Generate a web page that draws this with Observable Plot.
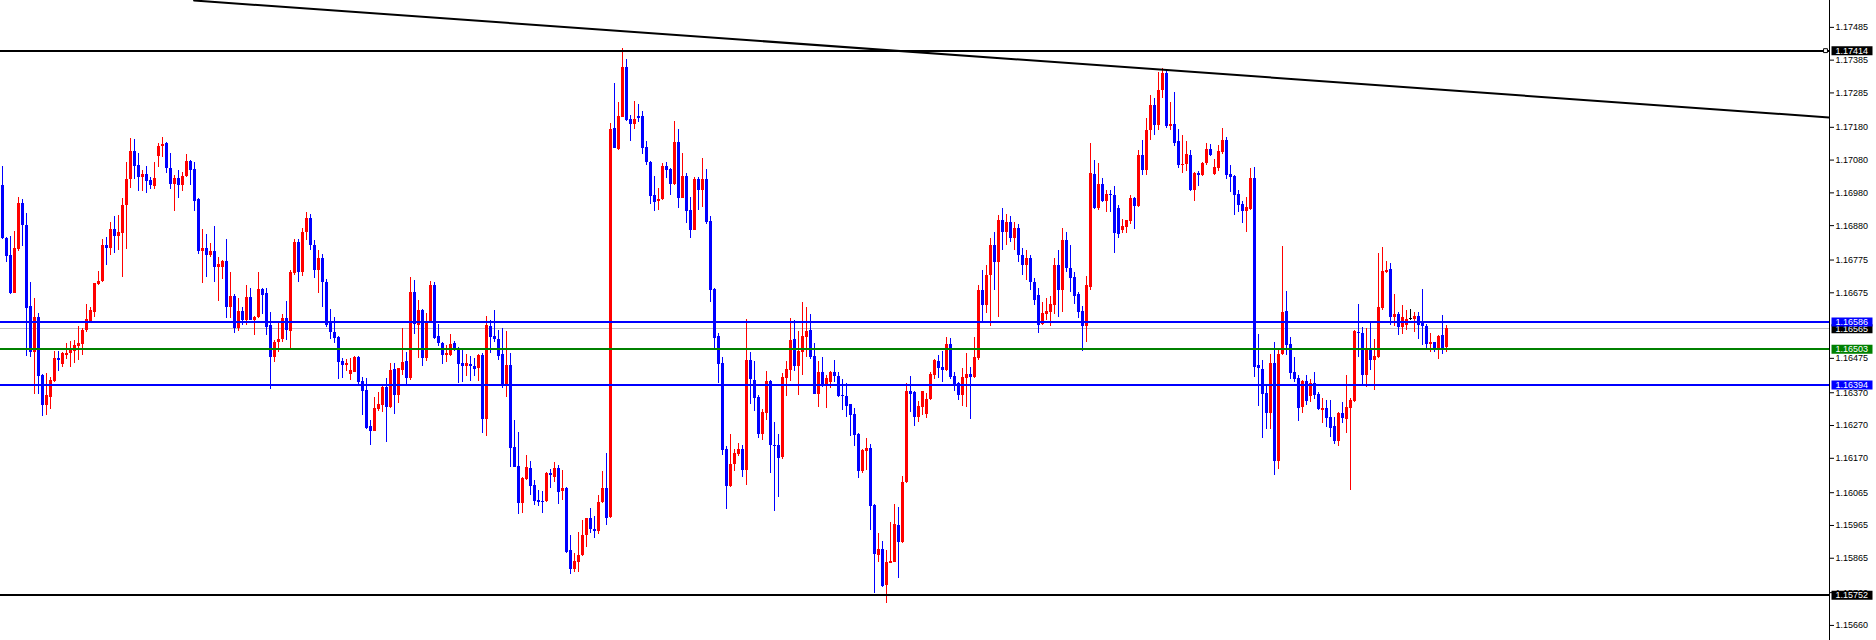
<!DOCTYPE html>
<html><head><meta charset="utf-8">
<script src="https://cdn.jsdelivr.net/npm/d3@7"></script>
<script src="https://cdn.jsdelivr.net/npm/@observablehq/plot@0.6"></script>
<style>
html,body{margin:0;padding:0;background:#fff;}
#chart{width:1876px;height:640px;overflow:hidden;}
</style></head><body><div id="chart"></div>
<script>
// EURUSD-style candles, oldest first (one per bar)
const open = [
1.17003,1.16840,1.16789,1.16674,1.16807,1.16948,1.16881,1.16633,1.16494,1.16600,
1.16423,1.16331,1.16357,1.16403,1.16475,1.16457,1.16485,1.16490,1.16495,1.16512,
1.16517,1.16560,1.16585,1.16615,1.16699,1.16709,1.16820,1.16811,1.16868,1.16848,
1.16857,1.16942,1.17021,1.17106,1.17064,1.17028,1.17036,1.17018,1.17000,1.17091,
1.17120,1.17131,1.17055,1.17006,1.17024,1.17001,1.17030,1.17076,1.17051,1.16960,
1.16802,1.16810,1.16790,1.16801,1.16753,1.16753,1.16771,1.16631,1.16665,1.16567,
1.16618,1.16591,1.16661,1.16591,1.16600,1.16685,1.16673,1.16575,1.16479,1.16522,
1.16533,1.16597,1.16558,1.16733,1.16829,1.16738,1.16859,1.16902,1.16819,1.16743,
1.16780,1.16707,1.16580,1.16554,1.16539,1.16466,1.16454,1.16427,1.16433,1.16478,
1.16404,1.16377,1.16267,1.16253,1.16320,1.16331,1.16386,1.16324,1.16441,1.16363,
1.16439,1.16465,1.16415,1.16676,1.16576,1.16621,1.16476,1.16585,1.16697,1.16542,
1.16520,1.16485,1.16484,1.16520,1.16504,1.16459,1.16449,1.16456,1.16450,1.16444,
1.16484,1.16289,1.16572,1.16542,1.16532,1.16487,1.16390,1.16452,1.16203,1.16145,
1.16033,1.16105,1.16139,1.16087,1.16041,1.16038,1.16038,1.16124,1.16112,1.16138,
1.16069,1.16078,1.15888,1.15832,1.15853,1.15873,1.15934,1.15985,1.15954,1.15948,
1.16035,1.16078,1.15988,1.17176,1.17112,1.17211,1.17363,1.17205,1.17190,1.17213,
1.17213,1.17118,1.17073,1.16972,1.16955,1.16960,1.17061,1.17051,1.17004,1.17134,
1.16964,1.17030,1.16926,1.16866,1.17022,1.16988,1.17022,1.16893,1.16686,1.16543,
1.16459,1.16197,1.16085,1.16151,1.16182,1.16197,1.16134,1.16469,1.16408,1.16357,
1.16244,1.16308,1.16405,1.16210,1.16210,1.16171,1.16415,1.16439,1.16533,1.16451,
1.16494,1.16539,1.16560,1.16481,1.16366,1.16432,1.16393,1.16400,1.16432,1.16420,
1.16362,1.16359,1.16333,1.16304,1.16243,1.16130,1.16191,1.16200,1.16027,1.15874,
1.15892,1.15782,1.15850,1.15853,1.15966,1.15912,1.16095,1.16374,1.16371,1.16293,
1.16326,1.16304,1.16350,1.16423,1.16466,1.16448,1.16438,1.16518,1.16420,1.16399,
1.16362,1.16414,1.16426,1.16417,1.16475,1.16682,1.16636,1.16728,1.16819,1.16768,
1.16896,1.16859,1.16890,1.16841,1.16871,1.16789,1.16758,1.16780,1.16707,1.16667,
1.16579,1.16609,1.16615,1.16637,1.16758,1.16682,1.16835,1.16749,1.16721,1.16670,
1.16618,1.16573,1.16692,1.17036,1.16933,1.17005,1.16953,1.16975,1.16972,1.16932,
1.16865,1.16875,1.16892,1.16963,1.16938,1.17094,1.17048,1.17170,1.17247,1.17186,
1.17292,1.17345,1.17182,1.17188,1.17136,1.17063,1.17066,1.17094,1.16987,1.17039,
1.17033,1.17069,1.17112,1.17036,1.17055,1.17103,1.17139,1.17036,1.17030,1.16975,
1.16944,1.16922,1.16929,1.17023,1.16453,1.16441,1.16368,1.16308,1.16459,1.16160,
1.16487,1.16618,1.16517,1.16432,1.16413,1.16325,1.16404,1.16358,1.16398,1.16364,
1.16316,1.16322,1.16294,1.16267,1.16221,1.16306,1.16288,1.16322,1.16343,1.16554,
1.16551,1.16422,1.16499,1.16468,1.16478,1.16627,1.16737,1.16746,1.16599,1.16609,
1.16569,1.16575,1.16597,1.16594,1.16603,1.16581,1.16572,1.16517,1.16523,1.16505,
1.16545,1.16508];
const high = [
1.17059,1.16845,1.16847,1.16862,1.16966,1.16960,1.16917,1.16707,1.16658,1.16613,
1.16426,1.16428,1.16417,1.16496,1.16496,1.16492,1.16521,1.16525,1.16528,1.16572,
1.16566,1.16640,1.16631,1.16703,1.16740,1.16838,1.16844,1.16890,1.16907,1.16911,
1.16962,1.17072,1.17146,1.17143,1.17100,1.17048,1.17061,1.17028,1.17073,1.17131,
1.17149,1.17134,1.17100,1.17032,1.17048,1.17043,1.17097,1.17080,1.17072,1.16962,
1.16868,1.16853,1.16825,1.16878,1.16783,1.16775,1.16838,1.16737,1.16669,1.16658,
1.16631,1.16698,1.16687,1.16602,1.16737,1.16689,1.16687,1.16614,1.16530,1.16581,
1.16608,1.16649,1.16743,1.16837,1.16838,1.16871,1.16920,1.16914,1.16835,1.16804,
1.16792,1.16715,1.16624,1.16600,1.16541,1.16474,1.16471,1.16474,1.16481,1.16480,
1.16418,1.16414,1.16285,1.16356,1.16372,1.16388,1.16414,1.16459,1.16459,1.16444,
1.16566,1.16492,1.16722,1.16713,1.16652,1.16624,1.16612,1.16710,1.16707,1.16579,
1.16522,1.16515,1.16549,1.16527,1.16509,1.16500,1.16487,1.16481,1.16474,1.16488,
1.16491,1.16603,1.16590,1.16621,1.16559,1.16566,1.16558,1.16490,1.16285,1.16249,
1.16110,1.16179,1.16160,1.16102,1.16072,1.16070,1.16127,1.16135,1.16157,1.16149,
1.16133,1.16082,1.15934,1.15881,1.15944,1.15980,1.15987,1.16017,1.15992,1.16058,
1.16130,1.16185,1.17192,1.17314,1.17256,1.17420,1.17387,1.17216,1.17259,1.17250,
1.17228,1.17137,1.17075,1.17030,1.16993,1.17070,1.17073,1.17053,1.17198,1.17174,
1.17100,1.17038,1.16966,1.17028,1.17028,1.17085,1.17052,1.16908,1.16688,1.16551,
1.16478,1.16205,1.16243,1.16197,1.16215,1.16209,1.16594,1.16493,1.16466,1.16363,
1.16319,1.16435,1.16407,1.16279,1.16244,1.16429,1.16466,1.16597,1.16591,1.16557,
1.16646,1.16630,1.16609,1.16521,1.16466,1.16478,1.16423,1.16435,1.16469,1.16432,
1.16411,1.16398,1.16335,1.16322,1.16245,1.16197,1.16231,1.16213,1.16030,1.15941,
1.15917,1.15889,1.15975,1.16030,1.16021,1.16115,1.16399,1.16420,1.16374,1.16344,
1.16375,1.16368,1.16432,1.16471,1.16484,1.16496,1.16539,1.16536,1.16432,1.16401,
1.16445,1.16490,1.16447,1.16539,1.16697,1.16743,1.16758,1.16841,1.16859,1.16911,
1.16932,1.16914,1.16908,1.16890,1.16884,1.16810,1.16804,1.16789,1.16719,1.16688,
1.16646,1.16658,1.16664,1.16780,1.16804,1.16871,1.16859,1.16819,1.16737,1.16676,
1.16633,1.16725,1.17130,1.17080,1.17070,1.17024,1.16987,1.16987,1.16999,1.16941,
1.16898,1.16897,1.16972,1.16966,1.17109,1.17140,1.17207,1.17277,1.17268,1.17347,
1.17360,1.17353,1.17255,1.17286,1.17173,1.17155,1.17136,1.17109,1.17043,1.17045,
1.17072,1.17130,1.17127,1.17082,1.17124,1.17176,1.17149,1.17063,1.17033,1.16987,
1.16953,1.16966,1.17054,1.17057,1.16548,1.16468,1.16389,1.16488,1.16523,1.16499,
1.16817,1.16679,1.16538,1.16478,1.16422,1.16407,1.16422,1.16410,1.16432,1.16371,
1.16352,1.16346,1.16346,1.16294,1.16310,1.16340,1.16422,1.16352,1.16560,1.16639,
1.16569,1.16566,1.16584,1.16532,1.16795,1.16813,1.16770,1.16764,1.16670,1.16615,
1.16636,1.16621,1.16624,1.16615,1.16615,1.16685,1.16578,1.16551,1.16524,1.16545,
1.16606,1.16575];
const low = [
1.16838,1.16769,1.16669,1.16672,1.16801,1.16817,1.16482,1.16479,1.16366,1.16366,
1.16299,1.16301,1.16320,1.16401,1.16436,1.16447,1.16470,1.16448,1.16458,1.16469,
1.16485,1.16554,1.16580,1.16601,1.16697,1.16707,1.16757,1.16790,1.16796,1.16804,
1.16723,1.16808,1.16994,1.17022,1.16985,1.16985,1.16977,1.16989,1.16991,1.17056,
1.17089,1.17038,1.16991,1.16924,1.16963,1.16984,1.17028,1.17001,1.16924,1.16793,
1.16702,1.16723,1.16782,1.16707,1.16650,1.16716,1.16596,1.16598,1.16550,1.16558,
1.16575,1.16575,1.16589,1.16546,1.16598,1.16610,1.16546,1.16381,1.16461,1.16492,
1.16523,1.16530,1.16505,1.16727,1.16707,1.16725,1.16835,1.16804,1.16719,1.16673,
1.16630,1.16568,1.16532,1.16519,1.16410,1.16414,1.16435,1.16408,1.16431,1.16396,
1.16302,1.16259,1.16210,1.16251,1.16314,1.16310,1.16219,1.16322,1.16304,1.16337,
1.16424,1.16394,1.16408,1.16549,1.16474,1.16450,1.16465,1.16580,1.16532,1.16512,
1.16456,1.16463,1.16482,1.16495,1.16399,1.16401,1.16421,1.16405,1.16420,1.16405,
1.16246,1.16238,1.16491,1.16524,1.16468,1.16384,1.16357,1.16143,1.16141,1.16000,
1.16003,1.16102,1.16057,1.16026,1.16023,1.16003,1.16034,1.16078,1.16095,1.16029,
1.16040,1.15878,1.15816,1.15820,1.15823,1.15871,1.15899,1.15942,1.15924,1.15938,
1.16031,1.15966,1.15986,1.17114,1.17109,1.17209,1.17199,1.17138,1.17172,1.17196,
1.17098,1.17064,1.16943,1.16924,1.16927,1.16957,1.17025,1.16972,1.17002,1.16933,
1.16962,1.16888,1.16842,1.16864,1.16927,1.16936,1.16883,1.16645,1.16506,1.16399,
1.16180,1.16015,1.16082,1.16130,1.16174,1.16112,1.16088,1.16335,1.16314,1.16229,
1.16225,1.16284,1.16125,1.16009,1.16049,1.16165,1.16360,1.16403,1.16436,1.16361,
1.16424,1.16478,1.16472,1.16364,1.16326,1.16387,1.16323,1.16384,1.16400,1.16356,
1.16316,1.16296,1.16237,1.16207,1.16109,1.16125,1.16133,1.15950,1.15758,1.15853,
1.15776,1.15727,1.15848,1.15851,1.15802,1.15910,1.16093,1.16311,1.16268,1.16278,
1.16301,1.16292,1.16347,1.16411,1.16414,1.16402,1.16435,1.16411,1.16374,1.16347,
1.16329,1.16326,1.16287,1.16415,1.16469,1.16588,1.16612,1.16572,1.16682,1.16600,
1.16804,1.16819,1.16829,1.16804,1.16768,1.16728,1.16713,1.16682,1.16636,1.16551,
1.16576,1.16591,1.16573,1.16609,1.16600,1.16615,1.16737,1.16677,1.16640,1.16597,
1.16497,1.16523,1.16682,1.16929,1.16926,1.16950,1.16920,1.16920,1.16795,1.16841,
1.16856,1.16856,1.16883,1.16868,1.16936,1.17033,1.17034,1.17140,1.17155,1.17170,
1.17268,1.17176,1.17170,1.17121,1.17054,1.17039,1.17046,1.16984,1.16953,1.16999,
1.17030,1.17063,1.17092,1.17033,1.17046,1.17097,1.17021,1.16981,1.16911,1.16920,
1.16886,1.16860,1.16927,1.16417,1.16329,1.16229,1.16258,1.16258,1.16117,1.16137,
1.16485,1.16484,1.16410,1.16401,1.16282,1.16306,1.16331,1.16340,1.16349,1.16316,
1.16275,1.16264,1.16233,1.16212,1.16206,1.16275,1.16245,1.16072,1.16341,1.16479,
1.16389,1.16386,1.16438,1.16377,1.16476,1.16621,1.16735,1.16575,1.16572,1.16545,
1.16548,1.16560,1.16591,1.16555,1.16532,1.16514,1.16499,1.16493,1.16493,1.16471,
1.16487,1.16493];
const close = [
1.16840,1.16786,1.16674,1.16811,1.16948,1.16881,1.16628,1.16494,1.16600,1.16421,
1.16331,1.16362,1.16408,1.16475,1.16469,1.16490,1.16490,1.16499,1.16513,1.16521,
1.16560,1.16593,1.16621,1.16702,1.16709,1.16820,1.16811,1.16868,1.16848,1.16858,
1.16942,1.17021,1.17106,1.17059,1.17028,1.17036,1.17016,1.17001,1.17023,1.17120,
1.17128,1.17053,1.17006,1.17023,1.17001,1.17030,1.17076,1.17048,1.16955,1.16802,
1.16810,1.16790,1.16801,1.16753,1.16762,1.16772,1.16631,1.16664,1.16567,1.16618,
1.16591,1.16661,1.16591,1.16600,1.16685,1.16667,1.16570,1.16479,1.16523,1.16533,
1.16597,1.16560,1.16737,1.16830,1.16738,1.16859,1.16902,1.16819,1.16743,1.16780,
1.16707,1.16576,1.16555,1.16537,1.16463,1.16454,1.16459,1.16438,1.16478,1.16401,
1.16375,1.16262,1.16253,1.16322,1.16334,1.16386,1.16326,1.16438,1.16362,1.16443,
1.16462,1.16415,1.16676,1.16579,1.16621,1.16476,1.16585,1.16697,1.16537,1.16519,
1.16484,1.16489,1.16517,1.16498,1.16457,1.16450,1.16459,1.16450,1.16442,1.16484,
1.16289,1.16575,1.16539,1.16533,1.16482,1.16390,1.16452,1.16201,1.16143,1.16033,
1.16107,1.16141,1.16085,1.16038,1.16035,1.16035,1.16124,1.16116,1.16138,1.16067,
1.16078,1.15882,1.15832,1.15855,1.15873,1.15933,1.15985,1.15952,1.15948,1.16035,
1.16078,1.15986,1.17173,1.17116,1.17213,1.17363,1.17201,1.17190,1.17204,1.17208,
1.17116,1.17074,1.16970,1.16952,1.16960,1.17061,1.17049,1.17004,1.17134,1.16964,
1.17030,1.16924,1.16866,1.17022,1.16988,1.17022,1.16891,1.16683,1.16537,1.16457,
1.16195,1.16085,1.16151,1.16185,1.16197,1.16134,1.16469,1.16409,1.16354,1.16244,
1.16311,1.16405,1.16210,1.16207,1.16168,1.16417,1.16441,1.16530,1.16451,1.16496,
1.16542,1.16557,1.16479,1.16366,1.16432,1.16393,1.16414,1.16432,1.16421,1.16359,
1.16359,1.16329,1.16301,1.16240,1.16130,1.16194,1.16200,1.16023,1.15877,1.15892,
1.15780,1.15853,1.15856,1.15969,1.15912,1.16097,1.16374,1.16365,1.16293,1.16329,
1.16374,1.16350,1.16426,1.16469,1.16445,1.16438,1.16518,1.16417,1.16393,1.16362,
1.16417,1.16426,1.16417,1.16478,1.16682,1.16636,1.16728,1.16819,1.16768,1.16896,
1.16859,1.16890,1.16841,1.16871,1.16789,1.16758,1.16780,1.16707,1.16652,1.16576,
1.16612,1.16618,1.16640,1.16758,1.16682,1.16835,1.16749,1.16719,1.16665,1.16616,
1.16573,1.16697,1.17039,1.16933,1.17005,1.16953,1.16975,1.16972,1.16857,1.16854,
1.16877,1.16895,1.16963,1.16939,1.17094,1.17048,1.17170,1.17247,1.17186,1.17292,
1.17344,1.17182,1.17188,1.17131,1.17063,1.17068,1.17097,1.16987,1.17039,1.17033,
1.17069,1.17112,1.17094,1.17057,1.17105,1.17139,1.17033,1.17027,1.16972,1.16941,
1.16922,1.16934,1.17023,1.16448,1.16443,1.16365,1.16308,1.16459,1.16160,1.16487,
1.16615,1.16514,1.16429,1.16410,1.16322,1.16404,1.16343,1.16398,1.16361,1.16319,
1.16322,1.16291,1.16261,1.16221,1.16306,1.16291,1.16325,1.16346,1.16557,1.16551,
1.16422,1.16499,1.16468,1.16481,1.16630,1.16740,1.16743,1.16599,1.16609,1.16569,
1.16599,1.16594,1.16597,1.16603,1.16575,1.16572,1.16517,1.16523,1.16505,1.16542,
1.16502,1.16566];

// price-axis tick labels
const tickValues = [1.17485,1.17385,1.17285,1.17180,1.17080,1.16980,1.16880,1.16775,1.16675,
  1.16475,1.16370,1.16270,1.16170,1.16065,1.15965,1.15865,1.15760,1.15660];

// horizontal levels
const levelPrices = [1.17414, 1.16586, 1.16565, 1.16503, 1.16394, 1.15752];
const levelNames  = ["resistance", "upper", "bid", "pivot", "lower", "support"];

// trend line anchors (bar index, price)
const trendBars   = [47.9, 456.75];
const trendPrices = [1.17567, 1.17210];

// ---- build tables ----
const candles = open.map((o, i) => ({i, o, h: high[i], l: low[i], c: close[i]}));
const levels = levelPrices.map((p, k) => ({p, name: levelNames[k]}));
const trend = trendBars.map((i, k) => ({i, p: trendPrices[k]}));

const levelStyle = {
  resistance: {stroke: "#000000", width: 2, bg: "#000000"},
  upper:      {stroke: "#0000ff", width: 2, bg: "#0000ff"},
  bid:        {stroke: "#c0c0c0", width: 1, bg: "#000000"},
  pivot:      {stroke: "#008000", width: 2, bg: "#008000"},
  lower:      {stroke: "#0000ff", width: 2, bg: "#0000ff"},
  support:    {stroke: "#000000", width: 2, bg: "#000000"}
};
const candleColor = d => d.c > d.o ? "#ff0000" : d.c < d.o ? "#0000ff" : "#000000";
const fmt = d3.format(".5f");
const FONT = "Liberation Sans, Arial, sans-serif";

const boxSymbol = {draw(ctx) { ctx.moveTo(-20.5, -4.5); ctx.lineTo(20.5, -4.5); ctx.lineTo(20.5, 4.5); ctx.lineTo(-20.5, 4.5); ctx.closePath(); }};

const bidLv = levels.filter(d => d.name === "bid");
const mainLv = levels.filter(d => d.name !== "bid");

const labelMarks = (data) => [
  Plot.dot(data, {y: "p", frameAnchor: "right", dx: 22.5, symbol: boxSymbol, r: 5, fill: d => levelStyle[d.name].bg, stroke: null}),
  Plot.text(data, {y: "p", frameAnchor: "right", dx: 6, textAnchor: "start", text: d => fmt(d.p), fill: "#ffffff", fontSize: 9, fontFamily: FONT})
];

const chart = Plot.plot({
  width: 1876, height: 640,
  marginLeft: 0, marginRight: 47, marginTop: 0, marginBottom: 0,
  style: {background: "#ffffff", fontFamily: FONT, fontSize: "9px", color: "#000"},
  x: {domain: [-0.5, 456.75], axis: null},
  y: {domain: [1.15614, 1.17567], axis: null},
  color: {type: "identity"},
  marks: [
    Plot.ruleY(bidLv, {y: "p", stroke: "#c0c0c0", strokeWidth: 1, shapeRendering: "crispEdges"}),
    Plot.ruleX(candles, {x: "i", y1: "l", y2: "h", stroke: candleColor, strokeWidth: 1, shapeRendering: "crispEdges"}),
    Plot.ruleX(candles, {x: "i", y1: "o", y2: "c", stroke: candleColor, strokeWidth: 3, shapeRendering: "crispEdges"}),
    Plot.ruleY(candles.filter(d => d.o === d.c), {y: "o", x1: d => d.i - 0.375, x2: d => d.i + 0.375, stroke: "#000000", strokeWidth: 1, shapeRendering: "crispEdges"}),
    Plot.ruleY(mainLv, {y: "p", stroke: d => levelStyle[d.name].stroke, strokeWidth: 2, shapeRendering: "crispEdges"}),
    Plot.line(trend, {x: "i", y: "p", stroke: "#000000", strokeWidth: 2, clip: true}),
    Plot.frame({anchor: "right", stroke: "#000000"}),
    Plot.axisY(tickValues, {anchor: "right", tickSize: 4, tickPadding: 2, tickFormat: fmt, fontSize: 9, fontFamily: FONT, label: null, stroke: "#000000", fill: "#000000"}),
    ...labelMarks(bidLv),
    ...labelMarks(mainLv),
    Plot.dot(levels.filter(d => d.name === "resistance"), {y: "p", frameAnchor: "right", dx: -4, symbol: "square", r: 2.2, fill: "#ffffff", stroke: "#000000", strokeWidth: 1})
  ]
});
document.getElementById("chart").appendChild(chart);
</script>
</body></html>
